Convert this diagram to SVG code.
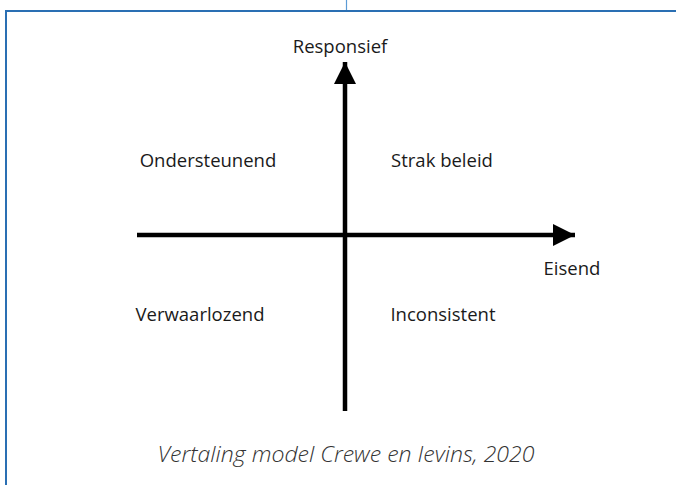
<svg xmlns="http://www.w3.org/2000/svg" width="676" height="485" viewBox="0 0 676 485">
<style>
.frame{stroke:#2a6fb3;stroke-width:2;fill:none}
.tick{stroke:#5b9bd5;stroke-width:1.2}
.axis{stroke:#000;stroke-width:4.5;fill:none}
.lbl{font-family:"Open Sans","Liberation Sans",sans-serif;font-size:18.5px;fill:#1a1a1a}
.cap{font-family:"Open Sans","Liberation Sans",sans-serif;font-size:22px;font-style:italic;font-weight:300;fill:#333}
</style>
<defs>
<marker id="ah" markerUnits="userSpaceOnUse" markerWidth="24" markerHeight="22" refX="22" refY="11" orient="auto">
<path d="M0,0 L22,11 L0,22 Z" fill="#000"/>
</marker>
</defs>
<rect width="676" height="485" fill="#fff"/>
<g id="frame">
<line class="tick" x1="346.5" y1="0" x2="346.5" y2="10"/>
<polyline class="frame" points="6,485 6,11 676,11"/>
</g>
<g id="connectors">
<line class="axis" x1="345" y1="411" x2="345" y2="62" marker-end="url(#ah)"/>
<line class="axis" x1="137" y1="235" x2="575" y2="235" marker-end="url(#ah)"/>
</g>
<g id="responsief"><text class="lbl" x="340" y="53" text-anchor="middle">Responsief</text></g>
<g id="eisend"><text class="lbl" x="572" y="275" text-anchor="middle">Eisend</text></g>
<g id="ondersteunend"><text class="lbl" x="208" y="167" text-anchor="middle">Ondersteunend</text></g>
<g id="strak-beleid"><text class="lbl" x="442" y="167" text-anchor="middle">Strak beleid</text></g>
<g id="verwaarlozend"><text class="lbl" x="200" y="321" text-anchor="middle">Verwaarlozend</text></g>
<g id="inconsistent"><text class="lbl" x="443" y="321" text-anchor="middle">Inconsistent</text></g>
<g id="caption"><text class="cap" x="346" y="462" text-anchor="middle" textLength="377" lengthAdjust="spacingAndGlyphs">Vertaling model Crewe en Ievins, 2020</text></g>
</svg>
